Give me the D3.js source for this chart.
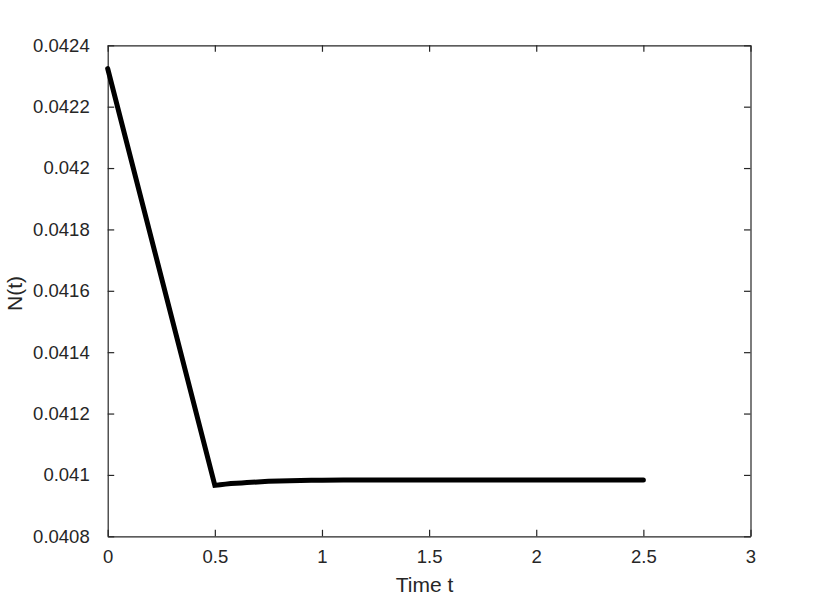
<!DOCTYPE html>
<html>
<head>
<meta charset="utf-8">
<script src="https://cdn.jsdelivr.net/npm/d3@7"></script>
<style>
  html, body { margin: 0; padding: 0; background: #fff; }
  svg { display: block; }
  text { font-family: "Liberation Sans", Arial, Helvetica, sans-serif; fill: #262626; }
</style>
</head>
<body>
<svg id="chart" width="830" height="602"></svg>
<script>
// Data
const timeValues = [0, 0.5, 0.525, 0.55, 0.575, 0.6, 0.625, 0.65, 0.7, 0.75, 0.8, 0.85, 0.9, 0.95, 1.0, 1.1, 1.2, 1.5, 2.0, 2.5];
const nValues = [0.042324, 0.040966, 0.040968, 0.040970, 0.040972, 0.040973, 0.040974, 0.040975,
                 0.040977, 0.040979, 0.040980, 0.040981, 0.040982, 0.0409825, 0.040983,
                 0.0409834, 0.0409834, 0.0409834, 0.0409834, 0.0409834];
const xTicks = [0, 0.5, 1, 1.5, 2, 2.5, 3];
const yTicks = [0.0408, 0.041, 0.0412, 0.0414, 0.0416, 0.0418, 0.042, 0.0422, 0.0424];
const xLabel = "Time t";
const yLabel = "N(t)";

const svg = d3.select("#chart");
const margin = { left: 107.7, right: 830 - 750.5, top: 45.3, bottom: 602 - 536.3 };
const W = 830, H = 602;

const x = d3.scaleLinear().domain([0, 3]).range([margin.left, W - margin.right]);
const y = d3.scaleLinear().domain([0.0408, 0.0424]).range([H - margin.bottom, margin.top]);

const axisColor = "#262626";
const tickLen = 6.5;
const fontSize = 18.5;

const g = svg.append("g");

const xAxis = g.append("g")
  .attr("transform", `translate(0,${y.range()[0]})`)
  .call(d3.axisBottom(x).tickValues(xTicks).tickFormat(d => d3.format("")(d)).tickSizeInner(-tickLen).tickSizeOuter(0).tickPadding(14));
const xAxisTop = g.append("g")
  .attr("transform", `translate(0,${y.range()[1]})`)
  .call(d3.axisTop(x).tickValues(xTicks).tickFormat("").tickSizeInner(-tickLen).tickSizeOuter(0));
const yAxis = g.append("g")
  .attr("transform", `translate(${x.range()[0]},0)`)
  .call(d3.axisLeft(y).tickValues(yTicks).tickFormat(d => String(+d.toFixed(4))).tickSizeInner(-tickLen).tickSizeOuter(0).tickPadding(18));
const yAxisRight = g.append("g")
  .attr("transform", `translate(${x.range()[1]},0)`)
  .call(d3.axisRight(y).tickValues(yTicks).tickFormat("").tickSizeInner(-tickLen).tickSizeOuter(0));

[xAxis, xAxisTop, yAxis, yAxisRight].forEach(a => {
  a.selectAll("path.domain").attr("stroke", axisColor).attr("stroke-width", 1.2);
  a.selectAll(".tick line").attr("stroke", axisColor).attr("stroke-width", 1.2);
  a.selectAll(".tick text").attr("font-size", fontSize).attr("fill", axisColor)
    .attr("font-family", '"Liberation Sans", Arial, sans-serif');
});
xAxis.selectAll(".tick text").attr("dy", "0.71em");

const line = d3.line()
  .x((d, i) => x(timeValues[i]))
  .y(d => y(d))
  .curve(d3.curveLinear);

g.append("path")
  .datum(nValues)
  .attr("fill", "none")
  .attr("stroke", "#000")
  .attr("stroke-width", 5)
  .attr("stroke-linejoin", "miter")
  .attr("stroke-linecap", "round")
  .attr("d", line);

g.append("text")
  .attr("x", 424.5)
  .attr("y", 591.5)
  .attr("text-anchor", "middle")
  .attr("font-size", 21)
  .text(xLabel);

g.append("text")
  .attr("transform", `translate(21.5,293.5) rotate(-90)`)
  .attr("text-anchor", "middle")
  .attr("font-size", 21)
  .text(yLabel);
</script>
</body>
</html>
